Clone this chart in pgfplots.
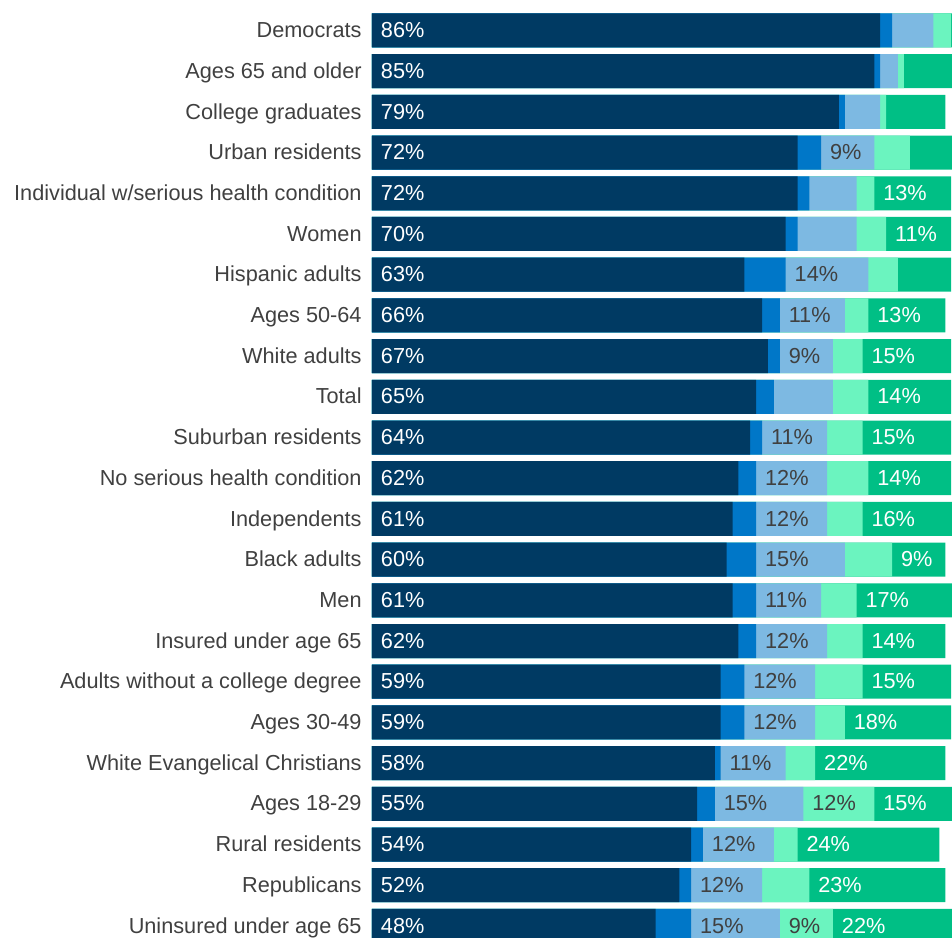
\documentclass[border=0pt]{standalone}
\usepackage{pgfplots}
\pgfplotsset{compat=1.18}
\usepackage{pgfplotstable}
\usepackage{fontspec}
\setmainfont{Liberation Sans}
\definecolor{cnavy}{HTML}{003A63}
\definecolor{cblue}{HTML}{0077C8}
\definecolor{clight}{HTML}{7DB9E2}
\definecolor{cmint}{HTML}{6BF4BF}
\definecolor{cgreen}{HTML}{00BF85}
\definecolor{ctext}{HTML}{404040}

\pgfplotstableread{
idx navy blue light mint green ln ll lm lg
0 86 2 7 3 1 86 {} {} {}
1 85 1 3 1 9 85 {} {} {}
2 79 1 6 1 10 79 {} {} {}
3 72 4 9 6 8 72 9 {} {}
4 72 2 8 3 13 72 {} {} 13
5 70 2 10 5 11 70 {} {} 11
6 63 7 14 5 9 63 14 {} {}
7 66 3 11 4 13 66 11 {} 13
8 67 2 9 5 15 67 9 {} 15
9 65 3 10 6 14 65 {} {} 14
10 64 2 11 6 15 64 11 {} 15
11 62 3 12 7 14 62 12 {} 14
12 61 4 12 6 16 61 12 {} 16
13 60 5 15 8 9 60 15 {} 9
14 61 4 11 6 17 61 11 {} 17
15 62 3 12 6 14 62 12 {} 14
16 59 4 12 8 15 59 12 {} 15
17 59 4 12 5 18 59 12 {} 18
18 58 1 11 5 22 58 11 {} 22
19 55 3 15 12 15 55 15 12 15
20 54 2 12 4 24 54 12 {} 24
21 52 2 12 8 23 52 12 {} 23
22 48 6 15 9 22 48 15 9 22
}\data
% cumulative ends of the stacked segments
\pgfplotstablecreatecol[create col/expr={\thisrow{navy}+\thisrow{blue}}]{cb}\data
\pgfplotstablecreatecol[create col/expr={\thisrow{cb}+\thisrow{light}}]{cl}\data
\pgfplotstablecreatecol[create col/expr={\thisrow{cl}+\thisrow{mint}}]{cm}\data
\pgfplotstablecreatecol[create col/expr={\thisrow{cm}+\thisrow{green}}]{cg}\data
\pgfplotstablecreatecol[create col/expr={0}]{zero}\data

\newcommand{\seglabel}{\ifx\pgfplotspointmeta\empty\else\pgfplotspointmeta\%\fi}

\pgfplotsset{
  seg/.style={xbar, bar shift=0pt, bar width=17bp, draw=none, fill=#1},
  lab/.style={draw=none, mark=none, point meta=explicit symbolic,
    nodes near coords={\seglabel},
    every node near coord/.append style={anchor=west, inner sep=0pt,
      xshift=4.3bp, text=#1, text height=0.72em, text depth=0pt,
      font=\fontsize{10.85bp}{13bp}\selectfont}},
}

\begin{document}
\begin{tikzpicture}
\begin{axis}[
  scale only axis,
  width=290bp, height=469bp,
  xmin=0, xmax=98.14,
  ymin=-0.749, ymax=22.297,
  y dir=reverse,
  axis line style={draw=none},
  major tick length=0pt,
  xtick=\empty,
  ytick={0,...,22},
  yticklabels={Democrats, Ages 65 and older, College graduates, Urban residents,
    Individual w/serious health condition, Women, Hispanic adults, Ages 50-64,
    White adults, Total, Suburban residents, No serious health condition,
    Independents, Black adults, Men, Insured under age 65,
    Adults without a college degree, Ages 30-49, White Evangelical Christians,
    Ages 18-29, Rural residents, Republicans, Uninsured under age 65},
  yticklabel style={anchor=east, inner sep=0pt, xshift=-5bp, text=ctext,
    text height=0.72em, text depth=0pt,
    font=\fontsize{10.85bp}{13bp}\selectfont},
]
% stacked segments drawn back to front from their cumulative ends
\addplot[seg=cgreen] table[x=cg, y=idx] {\data};
\addplot[seg=cmint]  table[x=cm, y=idx] {\data};
\addplot[seg=clight] table[x=cl, y=idx] {\data};
\addplot[seg=cblue]  table[x=cb, y=idx] {\data};
\addplot[seg=cnavy]  table[x=navy, y=idx] {\data};
% value labels at the left end of each segment
\addplot[lab=white] table[x=zero, y=idx, meta=ln] {\data};
\addplot[lab=ctext] table[x=cb, y=idx, meta=ll] {\data};
\addplot[lab=ctext] table[x=cl, y=idx, meta=lm] {\data};
\addplot[lab=white] table[x=cm, y=idx, meta=lg] {\data};
\end{axis}
\pgfresetboundingbox
\path[use as bounding box] ([xshift=-186bp]current axis.south west) rectangle (current axis.north east);
\end{tikzpicture}
\end{document}
